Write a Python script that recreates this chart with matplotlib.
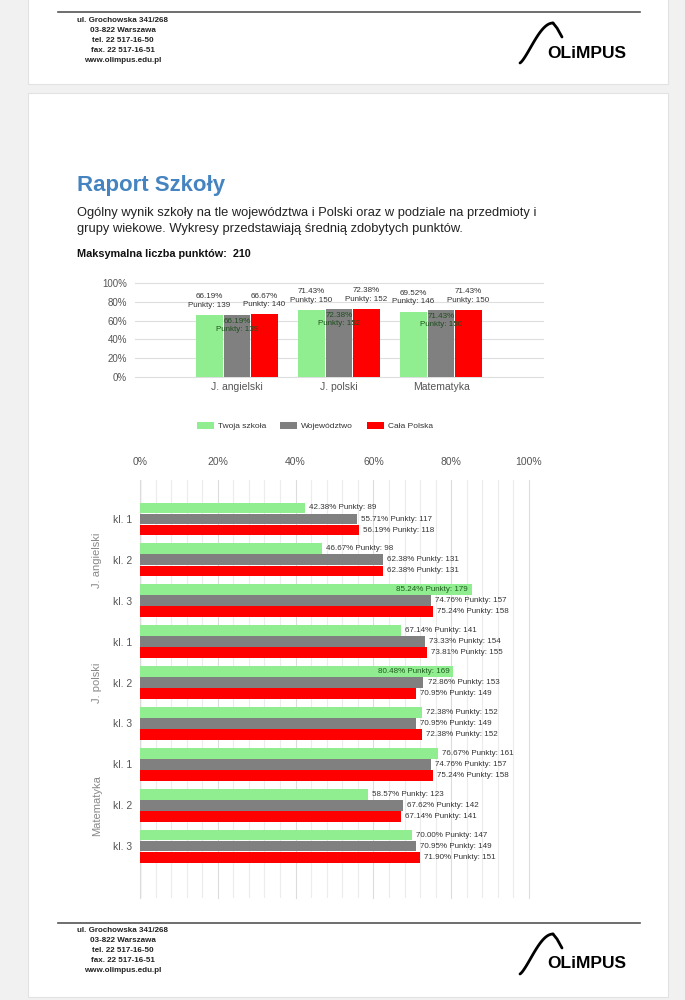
import matplotlib
matplotlib.use('Agg')
import matplotlib.pyplot as plt
from matplotlib.patches import Rectangle
from matplotlib import transforms
import numpy as np

plt.rcParams['font.family'] = ['Liberation Sans', 'DejaVu Sans']

# --- data -------------------------------------------------------------
max_points = 210
series_names = ['Twoja szkoła', 'Województwo', 'Cała Polska']
colors = ['#90ee90', '#808080', '#ff0000']

subjects = ['J. angielski', 'J. polski', 'Matematyka']
overall_school_pct = [66.19, 71.43, 69.52]
overall_school_pts = [139, 150, 146]
overall_region_pct = [66.19, 72.38, 71.43]
overall_region_pts = [139, 152, 150]
overall_poland_pct = [66.67, 72.38, 71.43]
overall_poland_pts = [140, 152, 150]

grades = ['kl. 1', 'kl. 2', 'kl. 3']
school_pct = [42.38, 46.67, 85.24, 67.14, 80.48, 72.38, 76.67, 58.57, 70.00]
school_pts = [89, 98, 179, 141, 169, 152, 161, 123, 147]
region_pct = [55.71, 62.38, 74.76, 73.33, 72.86, 70.95, 74.76, 67.62, 70.95]
region_pts = [117, 131, 157, 154, 153, 149, 157, 142, 149]
poland_pct = [56.19, 62.38, 75.24, 73.81, 70.95, 72.38, 75.24, 67.14, 71.90]
poland_pts = [118, 131, 158, 155, 149, 152, 158, 141, 151]

address = ['ul. Grochowska 341/268', '03-822 Warszawa', 'tel. 22 517-16-50',
           'fax. 22 517-16-51', 'www.olimpus.edu.pl']

W, H = 685, 1000
fig = plt.figure(figsize=(W / 100, H / 100), dpi=100, facecolor='#f1f1f1')


def px_axes(left, top, right, bottom):
    return fig.add_axes([left / W, 1 - bottom / H, (right - left) / W, (bottom - top) / H])


# --- page background, cards, header / footer ----------------------------
page = fig.add_axes([0, 0, 1, 1])
page.set_xlim(0, W)
page.set_ylim(H, 0)
page.axis('off')
page.add_patch(Rectangle((28, -2), 640, 86, facecolor='white', edgecolor='#e2e2e2', lw=0.8))
page.add_patch(Rectangle((28, 93), 640, 904, facecolor='white', edgecolor='#e2e2e2', lw=0.8))


def letterhead(dy):
    page.plot([58, 640], [12 + dy, 12 + dy], color='#555555', lw=1.2)
    for i, line in enumerate(address):
        page.text(123, 20 + dy + i * 10, line, ha='center', va='center', fontsize=5.8,
                  fontweight='bold', color='#222222',
                  family=['Liberation Sans Narrow', 'Liberation Sans'])
    # logo
    t = np.linspace(0, 1, 30)
    xs = 520 + 33 * t
    ys = 63 - 40 * np.sin(t * np.pi / 2) ** 1.3
    page.plot(xs, ys + dy, color='black', lw=2.0, solid_capstyle='round')
    page.plot([553, 557, 562], [23 + dy, 28 + dy, 37 + dy], color='black', lw=2.0,
              solid_capstyle='round')
    page.text(547, 53 + dy, 'OLiMPUS', ha='left', va='center', fontsize=12.5,
              fontweight='bold', color='black')


letterhead(0)
letterhead(911)

page.text(77, 185, 'Raport Szkoły', ha='left', va='center', fontsize=16,
          fontweight='bold', color='#4584c0')
page.text(77, 213, 'Ogólny wynik szkoły na tle województwa i Polski oraz w podziale na przedmioty i',
          ha='left', va='center', fontsize=9.3, color='#222222')
page.text(77, 229, 'grupy wiekowe. Wykresy przedstawiają średnią zdobytych punktów.',
          ha='left', va='center', fontsize=9.3, color='#222222')
page.text(77, 254, f'Maksymalna liczba punktów:  {max_points}', ha='left', va='center',
          fontsize=7.8, fontweight='bold', color='#111111')

# --- top chart: overall results ----------------------------------------
ax1 = px_axes(135, 283, 543, 377)
ax1.set_facecolor('none')
x = np.arange(1, len(subjects) + 1)
bw = 0.26
offs = [-0.27, 0, 0.27]
pcts = [overall_school_pct, overall_region_pct, overall_poland_pct]
pts = [overall_school_pts, overall_region_pts, overall_poland_pts]
for k in range(3):
    bars = ax1.bar(x + offs[k], pcts[k], width=bw, color=colors[k], label=series_names[k], zorder=2)
    for b, p, n in zip(bars, pcts[k], pts[k]):
        cx = b.get_x() + b.get_width() / 2
        if k == 1:
            ax1.annotate(f'{p:.2f}%\nPunkty: {n}', (cx, p), xytext=(0, -2),
                         textcoords='offset points', ha='center', va='top',
                         fontsize=5.8, color='#1f4f1f', linespacing=1.25, zorder=3)
        else:
            ax1.annotate(f'{p:.2f}%\nPunkty: {n}', (cx, p), xytext=(0, 4.5),
                         textcoords='offset points', ha='center', va='bottom',
                         fontsize=5.8, color='#333333', linespacing=1.25, zorder=3)
ax1.set_xlim(0, 4)
ax1.set_ylim(0, 100)
ax1.set_yticks(range(0, 101, 20))
ax1.set_yticklabels([f'{v}%' for v in range(0, 101, 20)])
ax1.set_xticks(x)
ax1.set_xticklabels(subjects)
ax1.tick_params(axis='y', length=0, pad=5.8, labelsize=7, labelcolor='#555555')
ax1.tick_params(axis='x', length=0, pad=3.6, labelsize=7.5, labelcolor='#555555')
ax1.grid(axis='y', color='#dedede', lw=0.8, zorder=0)
for gl in ax1.get_ygridlines():
    gl.set_clip_on(False)
for s in ax1.spines.values():
    s.set_visible(False)
ax1.legend(loc='center', bbox_to_anchor=(315 / W, 1 - 426 / H), bbox_transform=fig.transFigure,
           ncol=3, frameon=False, fontsize=6, handlelength=2.05, handleheight=0.85,
           handletextpad=0.5, columnspacing=1.6, labelcolor='#333333')

# --- bottom chart: results per grade -----------------------------------
ax2 = px_axes(140, 480, 529, 898)
ax2.set_facecolor('none')
y = np.arange(len(school_pct))
bh = 0.265
offs2 = [-0.27, 0, 0.27]
pcts2 = [school_pct, region_pct, poland_pct]
pts2 = [school_pts, region_pts, poland_pts]
for k in range(3):
    bars = ax2.barh(y + offs2[k], pcts2[k], height=bh, color=colors[k], zorder=2)
    for b, p, n in zip(bars, pcts2[k], pts2[k]):
        cy = b.get_y() + b.get_height() / 2
        if p >= 80:
            ax2.annotate(f'{p:.2f}% Punkty: {n}', (p, cy), xytext=(-2.5, 0),
                         textcoords='offset points', ha='right', va='center',
                         fontsize=5.8, color='#1f5a1f', zorder=3)
        else:
            ax2.annotate(f'{p:.2f}% Punkty: {n}', (p, cy), xytext=(3, 0),
                         textcoords='offset points', ha='left', va='center',
                         fontsize=5.8, color='#333333', zorder=3)
ax2.set_xlim(0, 100)
ax2.set_ylim(9.27, -0.954)
ax2.set_xticks(range(0, 101, 20))
ax2.set_xticklabels([f'{v}%' for v in range(0, 101, 20)])
ax2.set_xticks(range(0, 101, 4), minor=True)
ax2.xaxis.set_ticks_position('top')
ax2.tick_params(axis='x', which='both', length=0, pad=9.5, labelsize=7.5, labelcolor='#555555')
ax2.set_yticks(y)
ax2.set_yticklabels(grades * len(subjects))
ax2.tick_params(axis='y', length=0, pad=5.8, labelsize=7.5, labelcolor='#555555')
ax2.grid(axis='x', which='minor', color='#ececec', lw=0.8, zorder=0)
ax2.grid(axis='x', which='major', color='#dcdcdc', lw=0.8, zorder=0)
for gl in ax2.get_xgridlines() + ax2.xaxis.get_minorticklines():
    gl.set_clip_on(False)
ax2.axvline(0, color='#cccccc', lw=1, zorder=1)
for s in ax2.spines.values():
    s.set_visible(False)
tr = transforms.blended_transform_factory(ax2.transAxes, ax2.transData)
for i, subj in enumerate(subjects):
    ax2.text((97 - 140) / 389, i * 3 + 1, subj, transform=tr, rotation=90,
             ha='center', va='center', fontsize=8, color='#888888')

fig.savefig('out.png', dpi=100, facecolor=fig.get_facecolor())
